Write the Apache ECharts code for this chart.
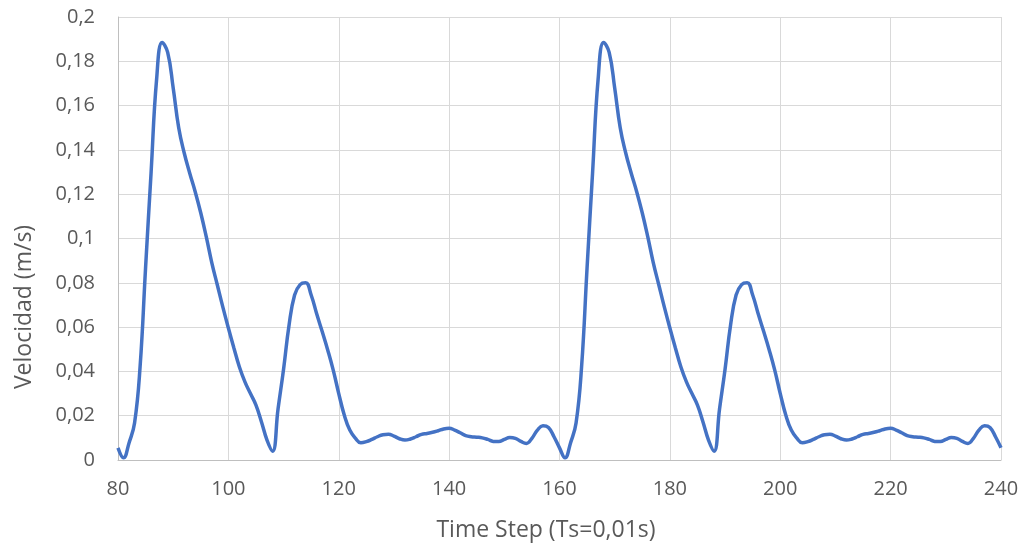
<!DOCTYPE html>
<html>
<head>
<meta charset="utf-8">
<script src="https://cdn.jsdelivr.net/npm/echarts@6/dist/echarts.min.js"></script>
<style>
  html, body { margin: 0; padding: 0; background: #ffffff; }
  #chart { width: 1024px; height: 547px; }
</style>
</head>
<body>
<div id="chart"></div>
<script>
// Time steps (Ts = 0,01 s), one sample per step
const timeSteps = [];
for (let t = 80; t <= 240; t++) timeSteps.push(t);

// Measured velocity (m/s) for steps 80..159
const velocityA = [
  0.0055, 0.001, 0.0077, 0.0167, 0.042, 0.087, 0.130, 0.172, 0.1885, 0.184,
  0.168, 0.150, 0.1386, 0.1295, 0.121, 0.1115, 0.1007, 0.089, 0.079, 0.069,
  0.0596, 0.0506, 0.042, 0.0353, 0.030, 0.0248, 0.0172, 0.009, 0.004, 0.023,
  0.041, 0.061, 0.0745, 0.0792, 0.080, 0.0745, 0.066, 0.058, 0.0497, 0.0406,
  0.030, 0.0203, 0.0135, 0.0099, 0.0078, 0.0083, 0.0093, 0.0105, 0.0114, 0.0116,
  0.0108, 0.0096, 0.009, 0.0095, 0.0105, 0.0116, 0.012, 0.0125, 0.0132, 0.014,
  0.0143, 0.0135, 0.0123, 0.011, 0.0105, 0.0103, 0.010, 0.0093, 0.0084, 0.0083,
  0.0093, 0.0102, 0.0098, 0.0084, 0.0075, 0.0098, 0.0135, 0.0155, 0.0147, 0.0105
];
// Measured velocity (m/s) for steps 160..240
const velocityB = [
  0.0055, 0.001, 0.0077, 0.0167, 0.042, 0.087, 0.130, 0.172, 0.1885, 0.184,
  0.168, 0.150, 0.1386, 0.1295, 0.121, 0.1115, 0.1007, 0.089, 0.079, 0.069,
  0.0596, 0.0506, 0.042, 0.0353, 0.030, 0.0248, 0.0172, 0.009, 0.004, 0.023,
  0.041, 0.061, 0.0745, 0.0792, 0.080, 0.0745, 0.066, 0.058, 0.0497, 0.0406,
  0.030, 0.0203, 0.0135, 0.0099, 0.0078, 0.0083, 0.0093, 0.0105, 0.0114, 0.0116,
  0.0108, 0.0096, 0.009, 0.0095, 0.0105, 0.0116, 0.012, 0.0125, 0.0132, 0.014,
  0.0143, 0.0135, 0.0123, 0.011, 0.0105, 0.0103, 0.010, 0.0093, 0.0084, 0.0083,
  0.0093, 0.0102, 0.0098, 0.0084, 0.0075, 0.0098, 0.0135, 0.0155, 0.0147, 0.0105,
  0.0055
];
const velocity = velocityA.concat(velocityB);

const xTitle = 'Time Step (Ts=0,01s)';
const yTitle = 'Velocidad (m/s)';

const points = timeSteps.map((t, i) => [t, velocity[i]]);

const fontFamily = '"Open Sans", "Liberation Sans", sans-serif';
const textColor = '#595959';

const chart = echarts.init(document.getElementById('chart'), null, { renderer: 'canvas' });
chart.setOption({
  animation: false,
  backgroundColor: '#ffffff',
  grid: { left: 118, right: 23, top: 17, bottom: 87, containLabel: false },
  xAxis: {
    type: 'value',
    min: 80, max: 240, interval: 20,
    name: xTitle,
    nameLocation: 'middle',
    nameGap: 59,
    nameTextStyle: { fontFamily, fontSize: 23, color: textColor, padding: [0, 27, 0, 0] },
    axisLine: { show: true, lineStyle: { color: '#bfbfbf', width: 1 } },
    axisTick: { show: false },
    axisLabel: { fontFamily, fontSize: 20, color: textColor, margin: 19 },
    splitLine: { show: true, lineStyle: { color: '#d9d9d9', width: 1 } }
  },
  yAxis: {
    type: 'value',
    min: 0, max: 0.2, interval: 0.02,
    axisLine: { show: true, lineStyle: { color: '#bfbfbf', width: 1 } },
    axisTick: { show: false },
    axisLabel: {
      fontFamily, fontSize: 20, color: textColor, margin: 23,
      formatter: v => String(parseFloat(v.toFixed(2))).replace('.', ',')
    },
    splitLine: { show: true, lineStyle: { color: '#d9d9d9', width: 1 } }
  },
  graphic: [{
    type: 'text',
    x: 24, y: 307,
    rotation: Math.PI / 2,
    style: {
      text: yTitle,
      fontFamily, fontSize: 23, fill: textColor,
      align: 'center', verticalAlign: 'middle'
    }
  }],
  series: [{
    type: 'line',
    data: points,
    smooth: 0.45,
    showSymbol: false,
    lineStyle: { color: '#4472C4', width: 3.5 },
    itemStyle: { color: '#4472C4' }
  }]
});
</script>
</body>
</html>
